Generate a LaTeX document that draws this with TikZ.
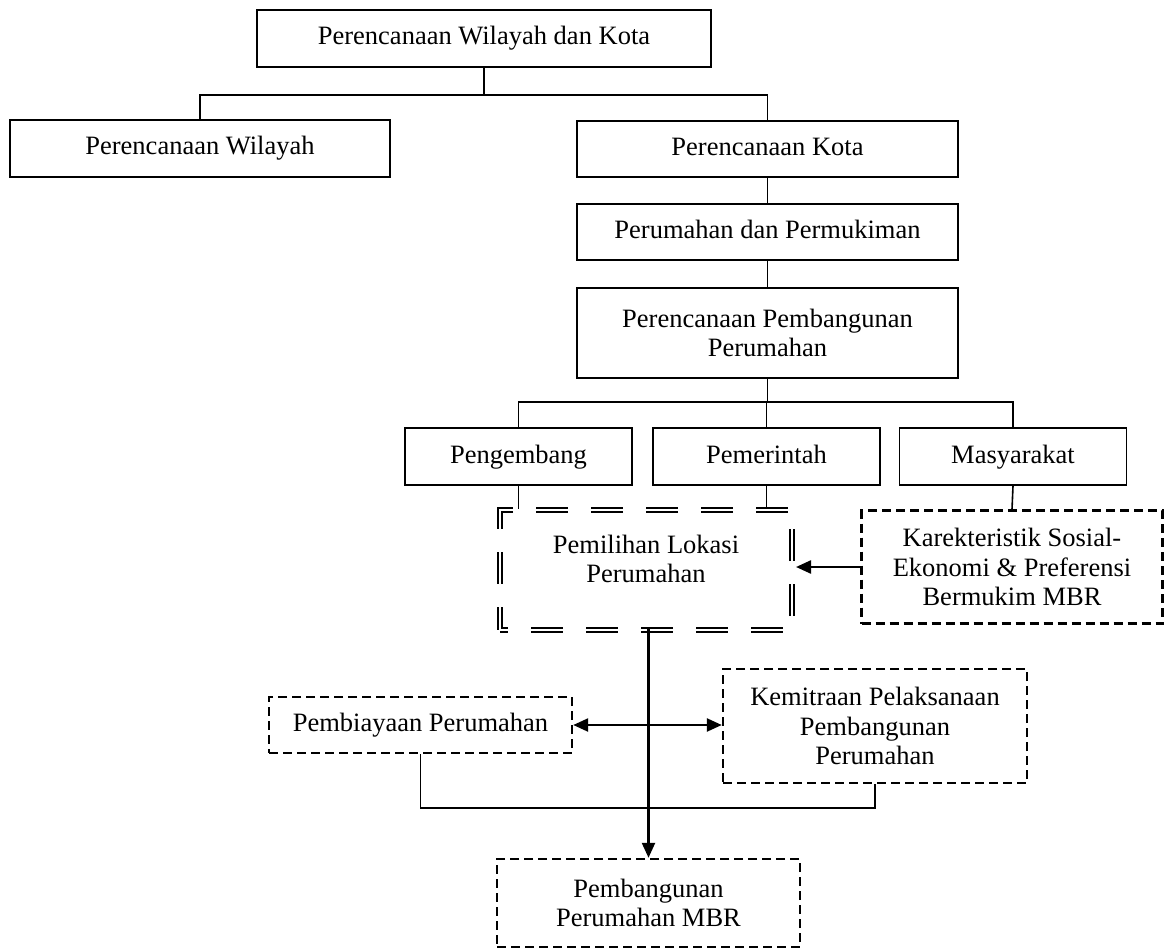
\documentclass[tikz,border=0pt]{standalone}
\usepackage{fontspec}
\setmainfont{Liberation Serif}
\usetikzlibrary{arrows.meta}
\begin{document}
\begin{tikzpicture}[x=1pt,y=-1pt]
\tikzset{
 txt/.style={font=\fontsize{26.5}{29.5}\selectfont, align=center, inner sep=0pt},
 oneline/.style={text height=18pt, text depth=5pt},
 solidbox/.style={txt, draw, line width=1.8pt},
 dashbox/.style={txt, draw, line width=2.4pt, dash pattern=on 9pt off 5pt},
 dblbox/.style={draw, line width=2pt, double, double distance=2.6pt, dash pattern=on 32pt off 23pt, dash phase=24pt},
 conn/.style={line width=1.6pt},
 thinconn/.style={line width=1.2pt},
 arr/.style={line width=2.4pt, -{Triangle[length=15pt,width=13pt]}},
 darr/.style={line width=2.4pt, {Triangle[length=15pt,width=13pt]}-{Triangle[length=15pt,width=13pt]}},
}
\useasboundingbox (0,0) rectangle (1164,949);

\node[solidbox, oneline, minimum width=454pt, minimum height=57pt] (top) at (484,38.5) {Perencanaan Wilayah dan Kota};
\node[solidbox, oneline, minimum width=380pt, minimum height=57pt] (pw) at (200,148.5) {Perencanaan Wilayah};
\node[solidbox, oneline, minimum width=381pt, minimum height=56pt] (kota) at (767.5,149) {Perencanaan Kota};
\node[solidbox, oneline, minimum width=381pt, minimum height=56pt] (pdp) at (767.5,232) {Perumahan dan Permukiman};
\node[solidbox, minimum width=381pt, minimum height=90pt] (ppp) at (767.5,333) {Perencanaan Pembangunan\\Perumahan};
\node[solidbox, oneline, minimum width=227pt, minimum height=57pt] (peng) at (518.5,456.5) {Pengembang};
\node[solidbox, oneline, minimum width=227pt, minimum height=57pt] (pem) at (766.5,456.5) {Pemerintah};
\node[solidbox, oneline, minimum width=227pt, minimum height=57pt] (mas) at (1013,456.5) {Masyarakat};

\node[dblbox, minimum width=292pt, minimum height=120pt, inner sep=0pt] (lok) at (646,570) {};
\node[txt] (loktxt) at (646,559) {Pemilihan Lokasi\\Perumahan};

\node[dashbox, minimum width=301pt, minimum height=113pt] (kar) at (1012,567) {Karekteristik Sosial-\\Ekonomi \& Preferensi\\Bermukim MBR};
\node[dashbox, oneline, minimum width=303pt, minimum height=56pt] (pby) at (420.5,725) {Pembiayaan Perumahan};
\node[dashbox, minimum width=304pt, minimum height=114pt] (kem) at (875,726) {Kemitraan Pelaksanaan\\Pembangunan\\Perumahan};
\node[dashbox, minimum width=303pt, minimum height=88pt] (mbr) at (648.5,903) {Pembangunan\\Perumahan MBR};

\coordinate (bus1) at (484,95);
\coordinate (bus2) at (767,402);
\coordinate (bus3) at (650,808);

\draw[conn] (top.south) -- (top.south |- bus1);
\draw[conn] (pw.north) -- (pw.north |- bus1) -- (kota.north |- bus1) -- (kota.north);
\draw[conn] (kota.south) -- (pdp.north);
\draw[conn] (pdp.south) -- (ppp.north);
\draw[conn] (ppp.south) -- (ppp.south |- bus2);
\draw[conn] (peng.north) -- (peng.north |- bus2) -- (mas.north |- bus2) -- (mas.north);
\draw[conn] (pem.north) -- (pem.north |- bus2);
\draw[conn] (peng.south) -- (peng.south |- lok.north);
\draw[conn] (pem.south) -- (pem.south |- lok.north);
\draw[conn] (mas.south) -- (kar.north);

\draw[arr] (kar.west) -- ([xshift=3pt]kar.west -| lok.east);
\draw[arr] ([yshift=3pt]mbr.north |- lok.south) -- (mbr.north);
\draw[darr] (pby.east) -- (pby.east -| kem.west);
\draw[thinconn] (pby.south) -- (pby.south |- bus3) -- (kem.south |- bus3) -- (kem.south);
\end{tikzpicture}
\end{document}
